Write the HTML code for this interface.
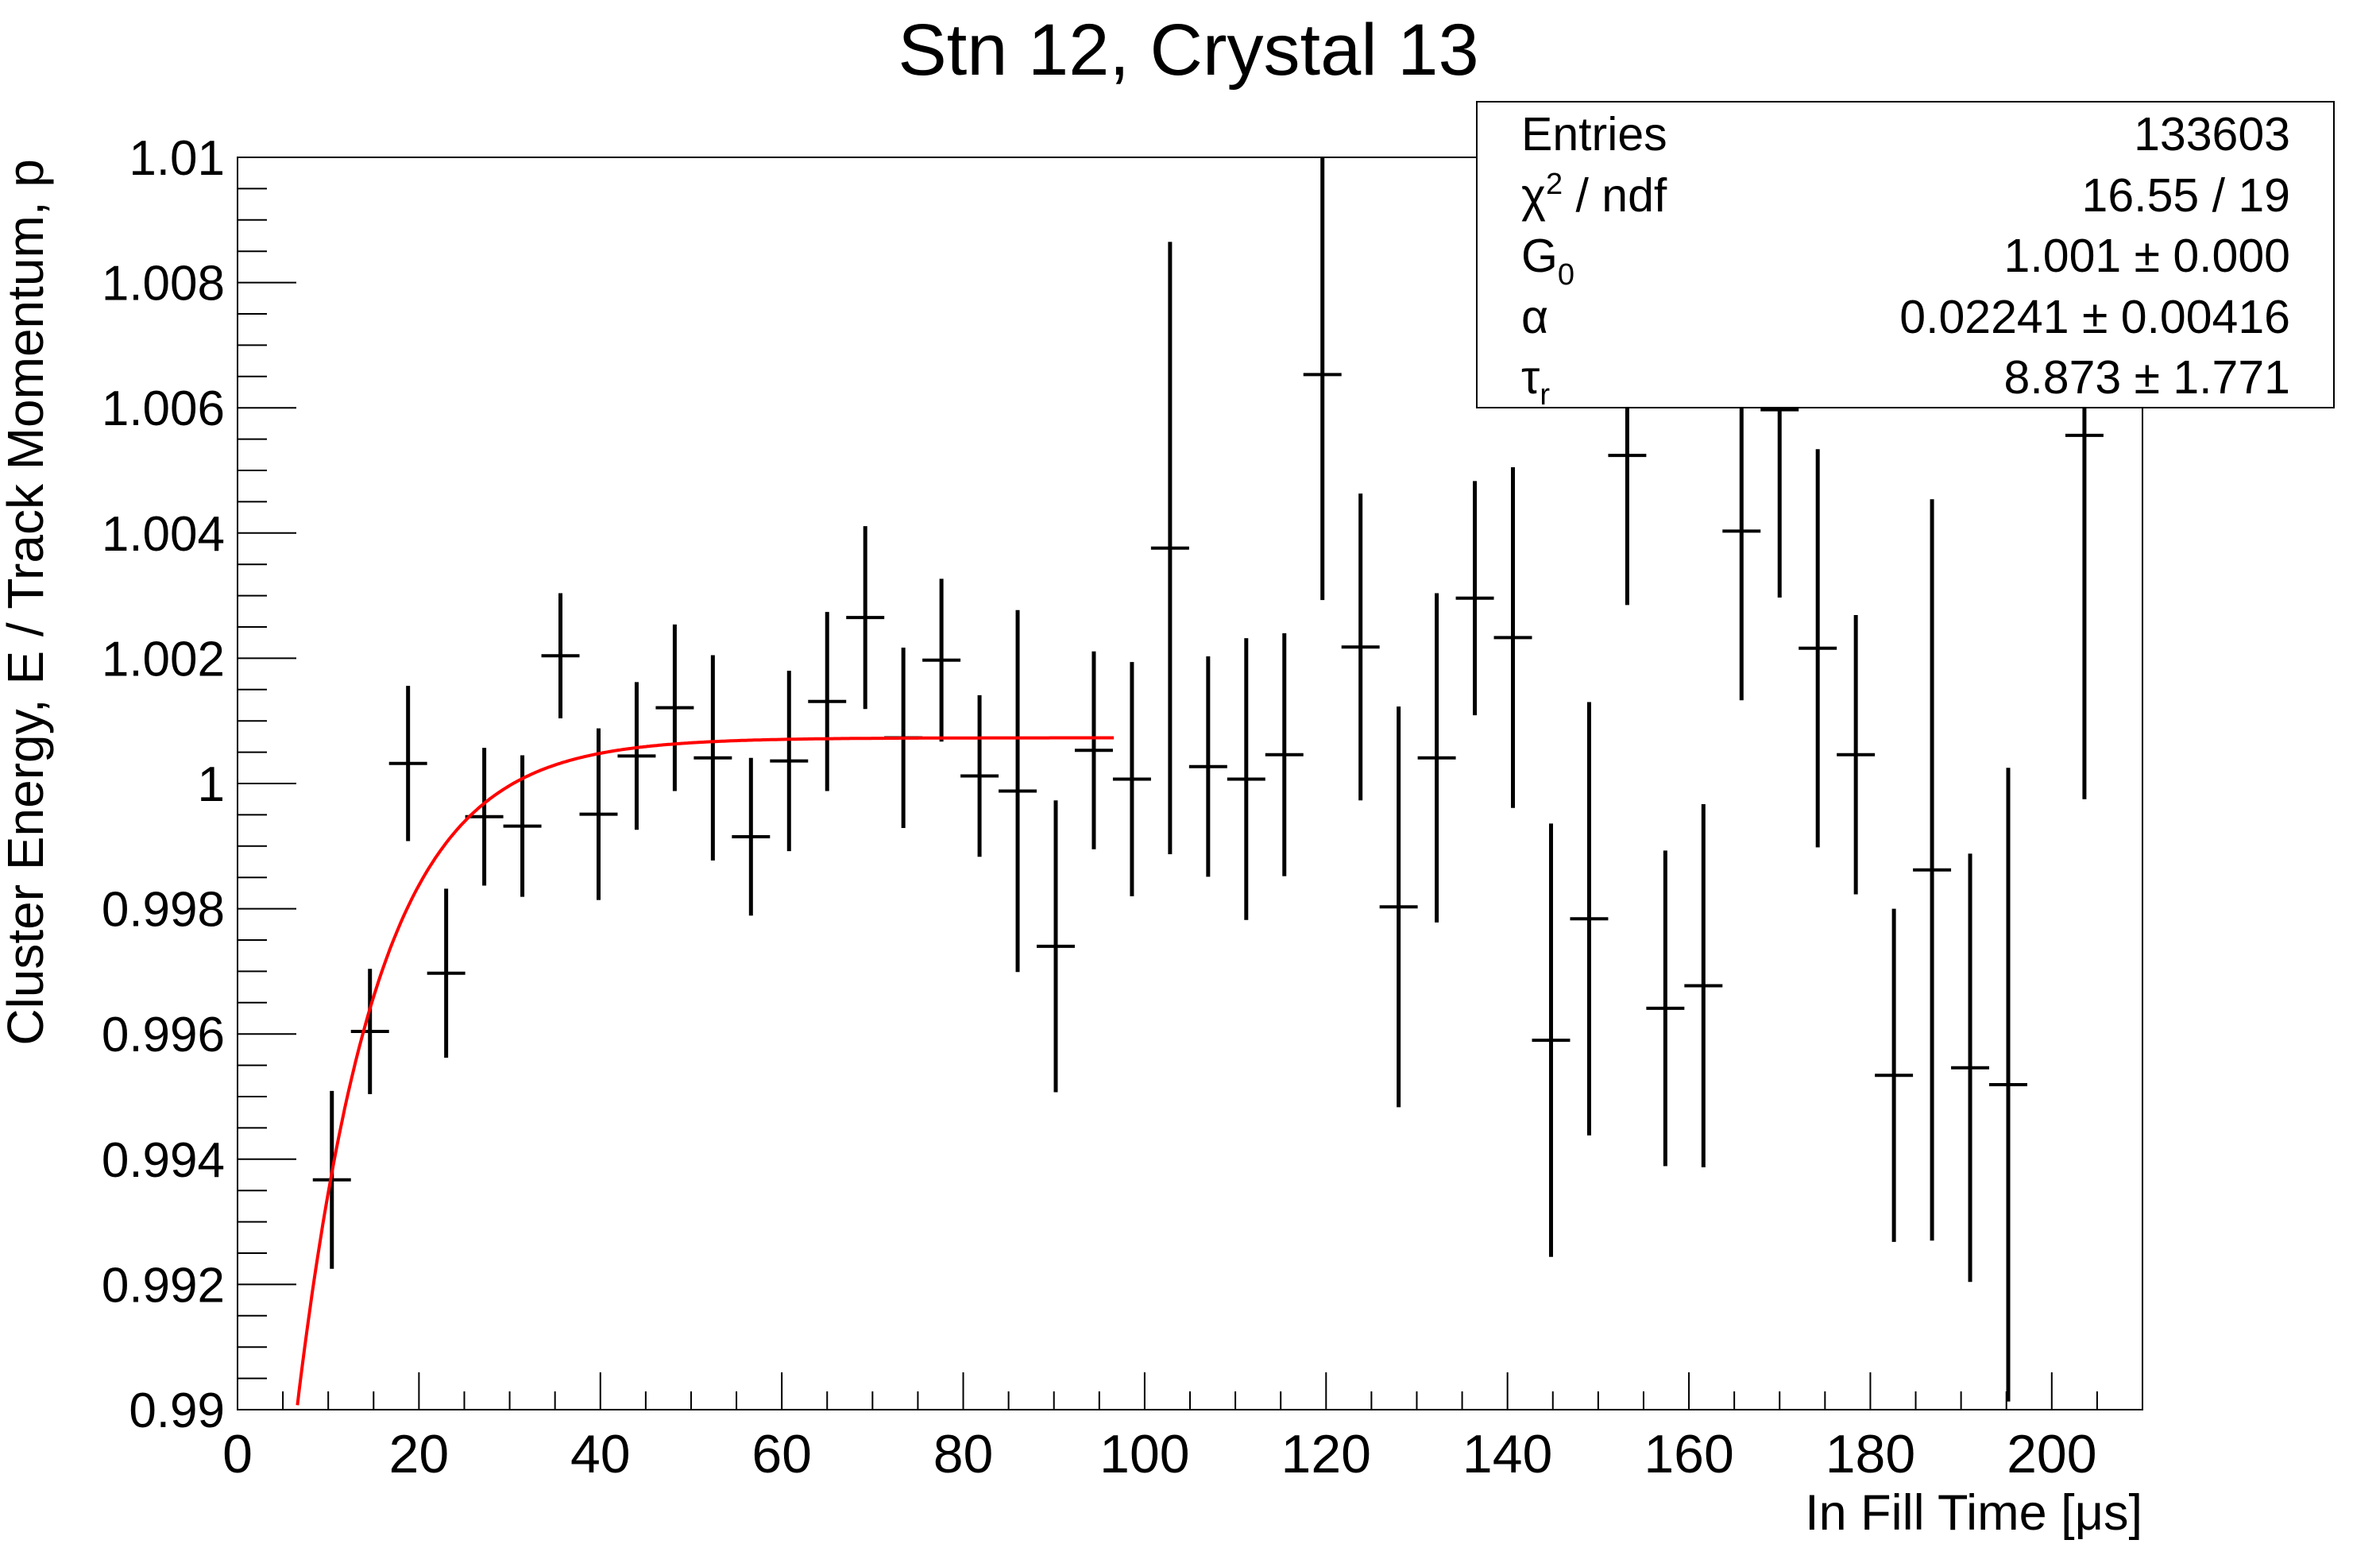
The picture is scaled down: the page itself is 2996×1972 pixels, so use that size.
<!DOCTYPE html>
<html><head><meta charset="utf-8"><style>
html,body{margin:0;padding:0;background:#fff;}
svg{display:block;font-family:"Liberation Sans",Arial,sans-serif;}
</style></head><body>
<svg id="chart" width="2996" height="1972" viewBox="0 0 2996 1972" xmlns="http://www.w3.org/2000/svg">
<rect x="0" y="0" width="2996" height="1972" fill="#fff"/>
<text x="1496" y="94" font-size="92" text-anchor="middle">Stn 12, Crystal 13</text>
<g id="axes"></g>
<g id="data"></g>
<g id="fit"></g>
<rect x="299" y="198" width="2398" height="1576" fill="none" stroke="#000" stroke-width="2"/>
<text x="2697" y="1925" font-size="63" text-anchor="end">In Fill Time [μs]</text>
<text transform="translate(54,200) rotate(-90)" font-size="64" text-anchor="end">Cluster Energy, E / Track Momentum, p</text>
<g>
<rect x="1859" y="128" width="1079" height="385" fill="#fff" stroke="#000" stroke-width="2"/>
<g font-size="59">
<text x="1915" y="189">Entries</text>
<text x="2883" y="189" text-anchor="end">133603</text>
<text x="1915" y="266">χ<tspan font-size="38" dy="-22">2</tspan><tspan dy="22"> / ndf</tspan></text>
<text x="2883" y="266" text-anchor="end">16.55 / 19</text>
<text x="1915" y="342">G<tspan font-size="38" dy="16">0</tspan></text>
<text x="2883" y="342" text-anchor="end">1.001 ± 0.000</text>
<text x="1915" y="419">α</text>
<text x="2883" y="419" text-anchor="end">0.02241 ± 0.00416</text>
<text x="1915" y="495">τ<tspan font-size="38" dy="14">r</tspan></text>
<text x="2883" y="495" text-anchor="end">8.873 ± 1.771</text>
</g></g>
</svg>
<script>
const xCenters=[10.4,14.6,18.8,23.0,27.2,31.4,35.6,39.8,44.0,48.2,52.4,56.6,60.8,65.0,69.2,73.4,77.6,81.8,86.0,90.2,94.4,98.6,102.8,107.0,111.2,115.4,119.6,123.8,128.0,132.2,136.4,140.6,144.8,149.0,153.2,157.4,161.6,165.8,170.0,174.2,178.4,182.6,186.8,191.0,195.2,203.6];
const yValues=[0.99367,0.99604,1.00032,0.99697,0.99947,0.99932,1.00204,0.99951,1.00044,1.00121,1.00041,0.99915,1.00036,1.00131,1.00265,1.00073,1.00197,1.00012,0.99988,0.9974,1.00053,1.00007,1.00376,1.00027,1.00007,1.00046,1.00653,1.00218,0.99803,1.00041,1.00296,1.00233,0.9959,0.99784,1.00524,0.99641,0.99677,1.00403,1.00597,1.00216,1.00046,0.99534,0.99862,0.99546,0.99519,1.00556];
const yErrors=[0.00142,0.001,0.00124,0.00135,0.0011,0.00113,0.001,0.00137,0.00118,0.00133,0.00164,0.00126,0.00144,0.00143,0.00146,0.00144,0.0013,0.00129,0.00289,0.00233,0.00158,0.00187,0.00489,0.00176,0.00225,0.00194,0.0036,0.00245,0.0032,0.00263,0.00187,0.00272,0.00346,0.00346,0.00239,0.00252,0.0029,0.0027,0.003,0.00318,0.00223,0.00266,0.00592,0.00342,0.00506,0.00581];
const binWidth=[4.2];
const fitParams=[1.00073,0.02241,8.873];
const fitRange=[6.0,96.6];
const xTicks=[0,20,40,60,80,100,120,140,160,180,200];
const yTicks=[0.99,0.992,0.994,0.996,0.998,1.0,1.002,1.004,1.006,1.008,1.01];
const yTickLabels=["0.99","0.992","0.994","0.996","0.998","1","1.002","1.004","1.006","1.008","1.01"];

const X0=299,X1=2697,Y0=1774,Y1=198,xmin=0,xmax=210,ymin=0.99,ymax=1.01;
const sx=v=>X0+(v-xmin)/(xmax-xmin)*(X1-X0);
const sy=v=>Y0-(v-ymin)/(ymax-ymin)*(Y0-Y1);
const NS="http://www.w3.org/2000/svg";
function mk(tag,attrs,parent){const e=document.createElementNS(NS,tag);for(const k in attrs)e.setAttribute(k,attrs[k]);parent.appendChild(e);return e;}
const axes=document.getElementById('axes');
for(let v=0;v<=210;v+=5){
  const major=(v%20===0);
  const t=mk('line',{x1:sx(v),x2:sx(v),y1:Y0,y2:Y0-(major?47:23),stroke:'#000','stroke-width':2},axes);
  
  
}
xTicks.forEach(v=>{
  const t=mk('text',{x:sx(v),y:1853,'font-size':68,'text-anchor':'middle'},axes);
  t.textContent=String(v);
  
  
});
for(let i=0;i<=40;i++){
  const v=ymin+i*0.0005;const major=(i%4===0);
  const t=mk('line',{x1:X0,x2:X0+(major?74:37),y1:sy(v),y2:sy(v),stroke:'#000','stroke-width':2},axes);
  
  
}
yTicks.forEach((v,i)=>{
  const t=mk('text',{x:283,y:sy(v)+22,'font-size':62,'text-anchor':'end'},axes);
  t.textContent=yTickLabels[i];
  
  
});
const dg=document.getElementById('data');
const clipY=v=>Math.max(Y1,Math.min(Y0,v));
xCenters.forEach((x,i)=>{
  const y=yValues[i],e=yErrors[i];
  const g=mk('g',{},dg);
  
  
  mk('line',{x1:sx(x),x2:sx(x),y1:clipY(sy(y+e)),y2:clipY(sy(y-e)),stroke:'#000','stroke-width':5},g);
  if(y>=ymin&&y<=ymax) mk('line',{x1:sx(x-binWidth[0]/2),x2:sx(x+binWidth[0]/2),y1:sy(y),y2:sy(y),stroke:'#000','stroke-width':4},g);
});
const [G0,al,tau]=fitParams;
let pts=[];
for(let t=fitRange[0];t<=fitRange[1]+1e-9;t+=0.2){
  const f=G0*(1-al*Math.exp(-t/tau));
  if(f<ymin) continue;
  pts.push(sx(t).toFixed(1)+','+sy(f).toFixed(1));
}
const fl=mk('polyline',{points:pts.join(' '),fill:'none',stroke:'#ff0000','stroke-width':4},document.getElementById('fit'));


</script>
</body></html>
